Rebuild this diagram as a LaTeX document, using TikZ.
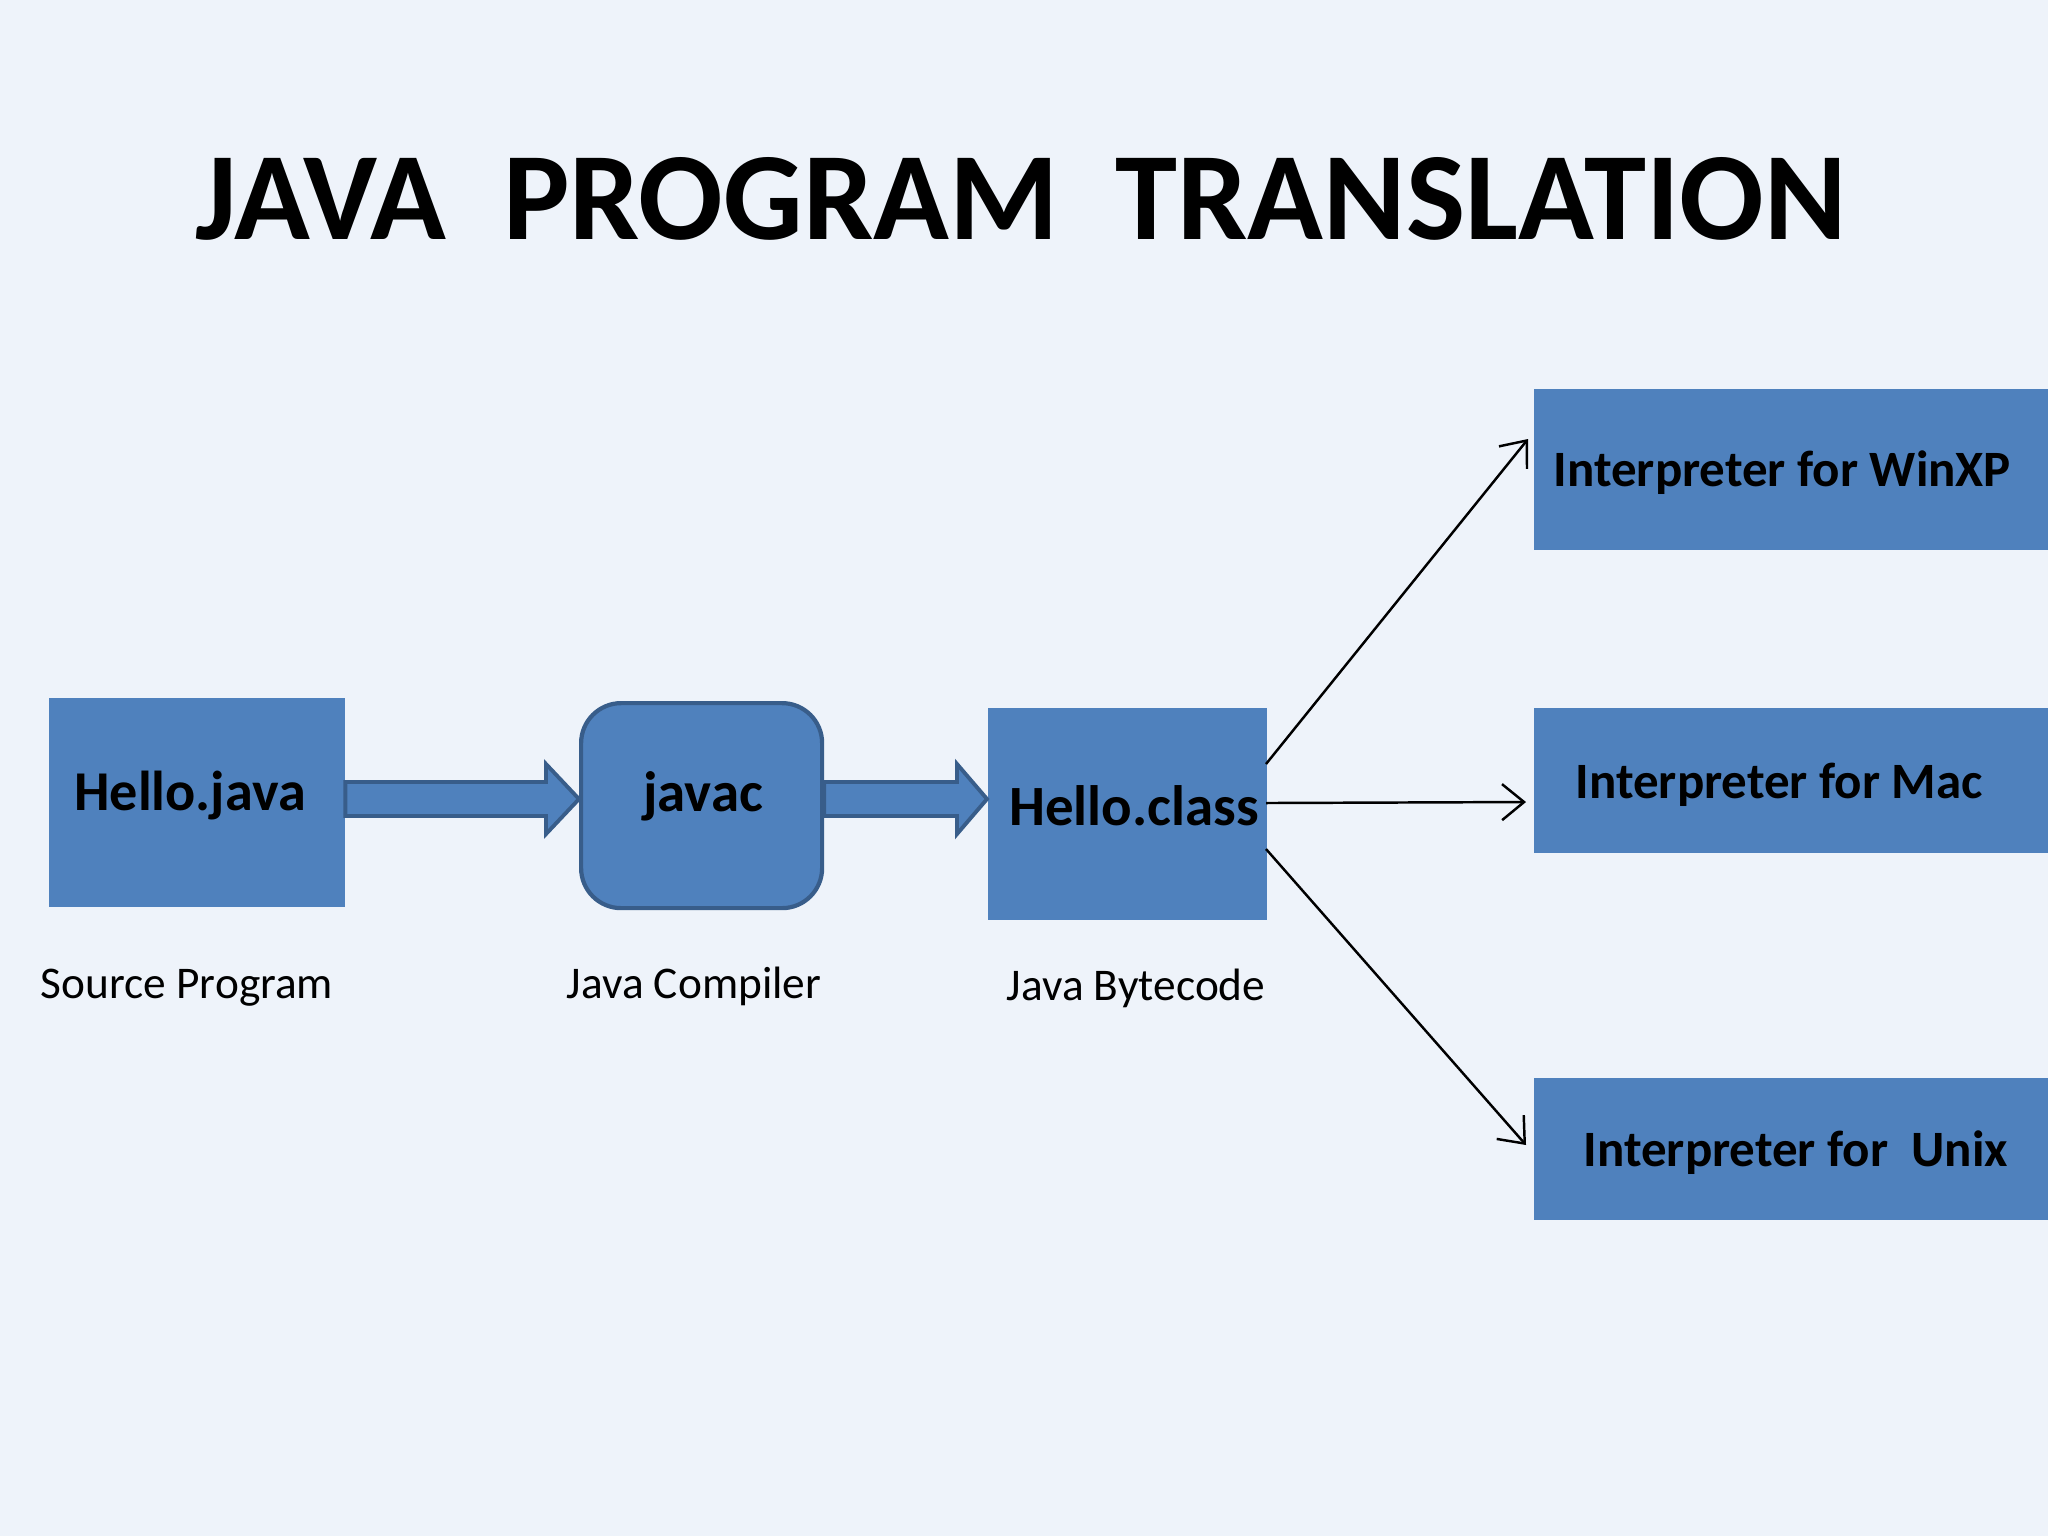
\documentclass[tikz,border=0pt]{standalone}
\usepackage{fontspec}
\setmainfont{Carlito}
\usetikzlibrary{arrows.meta,calc}
\definecolor{bg}{HTML}{EEF3FA}
\definecolor{boxblue}{HTML}{4F81BD}
\definecolor{edgeblue}{HTML}{385D8A}
\begin{document}
\begin{tikzpicture}[x=0.1mm,y=-0.1mm,
  plainbox/.style={fill=boxblue,draw=none,inner sep=0pt,anchor=north west},
  roundbox/.style={fill=boxblue,draw=edgeblue,line width=1.2pt,rounded corners=4mm,inner sep=0pt,anchor=north west},
  boxtext/.style={font=\bfseries\fontsize{16.2}{18}\selectfont,inner sep=0pt,anchor=base},
  interptext/.style={font=\bfseries\fontsize{14.5}{16}\selectfont,inner sep=0pt,anchor=base west},
  labeltext/.style={font=\fontsize{12.9}{14}\selectfont,inner sep=0pt,anchor=base},
  blockarrow/.style={fill=boxblue,draw=edgeblue,line width=1.1pt,line join=miter},
  thinarrow/.style={draw=black,line width=0.7pt,-{Straight Barb[length=2.2mm,width=3.6mm,line width=0.7pt]}}
]
\useasboundingbox[fill=bg] (0,0) rectangle (2048,1536);

% title
\node[font=\bfseries\fontsize{35.6}{40}\selectfont,inner sep=0pt,anchor=base] (title) at (1021,239) {JAVA\ \ PROGRAM\ \ TRANSLATION};

% boxes
\node[plainbox,minimum width=29.6mm,minimum height=20.9mm] (hj) at (48,697) {};
\node[roundbox,minimum width=24.1mm,minimum height=20.5mm] (jc) at (579,701) {};
\node[plainbox,minimum width=27.9mm,minimum height=21.2mm] (hc) at (987,707) {};
\node[plainbox,minimum width=52.0mm,minimum height=16.1mm] (wx) at (1533,388) {};
\node[plainbox,minimum width=52.0mm,minimum height=14.5mm] (mac) at (1533,707) {};
\node[plainbox,minimum width=52.0mm,minimum height=14.2mm] (unx) at (1533,1077) {};

% box texts
\node[boxtext,font=\bfseries\fontsize{16}{18}\selectfont] (hjt) at (190,810) {Hello.java};
\node[boxtext] (jct) at (703,811) {javac};
\node[boxtext] (hct) at (1134,825) {Hello.class};
\node[interptext] (wxt) at (1553,486) {Interpreter for WinXP};
\node[interptext] (mact) at (1575,798) {Interpreter for Mac};
\node[interptext] (unxt) at (1583,1166) {Interpreter for\ \ Unix};

% labels
\node[labeltext] (l1) at (187,998) {Source Program};
\node[labeltext] (l2) at (694,998) {Java Compiler};
\node[labeltext] (l3) at (1136,1000) {Java Bytecode};

% block arrows
\draw[blockarrow] (hj.east |- 0,782) -- (546,782) -- (546,764) -- (jc.west |- 0,799) -- (546,834) -- (546,816) -- (hj.east |- 0,816) -- cycle;
\draw[blockarrow] (jc.east |- 0,782) -- (957,782) -- (957,764) -- (hc.west |- 0,799) -- (957,834) -- (957,816) -- (jc.east |- 0,816) -- cycle;

% thin connectors
\coordinate (s1) at (1266,764);
\coordinate (s2) at (1266,803);
\coordinate (s3) at (1266,849);
\coordinate (e1) at (1528,439);
\coordinate (e2) at (1526,802);
\coordinate (e3) at (1526,1145);
\draw[thinarrow] (s1) -- (e1);
\draw[thinarrow] (s2) -- (e2);
\draw[thinarrow] (s3) -- (e3);
\end{tikzpicture}
\end{document}
